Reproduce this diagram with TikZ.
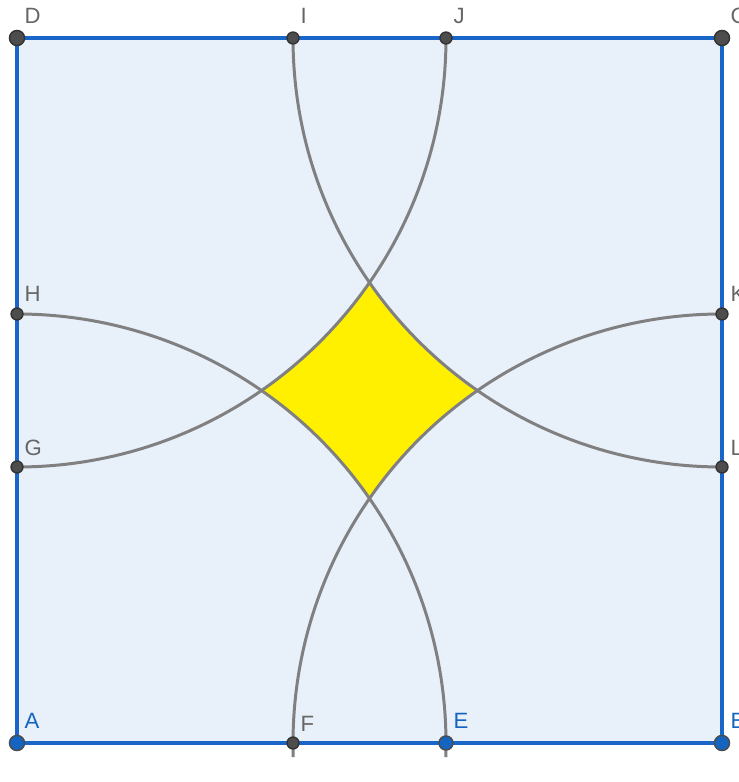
\documentclass[tikz,border=0pt]{standalone}
\usepackage{fontspec}
\setmainfont{Liberation Sans}
\usetikzlibrary{calc}
\definecolor{sqfill}{HTML}{E8F0FA}
\definecolor{sqline}{HTML}{1A66C8}
\definecolor{arcgray}{HTML}{808080}
\definecolor{ptgray}{HTML}{4D4D4D}
\definecolor{ptblue}{HTML}{1565C0}
\definecolor{lblgray}{HTML}{666666}
\definecolor{yel}{HTML}{FFF000}
\begin{document}
\begin{tikzpicture}[
  arcline/.style={draw=arcgray,line width=0.85pt},
  bigpt/.style={circle,fill=ptgray,draw=black!80,line width=0.4pt,inner sep=0pt,minimum size=4.3pt},
  smallpt/.style={circle,fill=ptgray,draw=black!80,line width=0.4pt,inner sep=0pt,minimum size=3.4pt},
  bigblue/.style={circle,fill=ptblue,draw=black!70,line width=0.4pt,inner sep=0pt,minimum size=4.3pt},
  midblue/.style={circle,fill=ptblue,draw=black!70,line width=0.4pt,inner sep=0pt,minimum size=4pt},
  lbl/.style={anchor=base west,inner sep=0pt,font=\fontsize{6.3}{7}\selectfont,text=lblgray},
  lblb/.style={lbl,text=ptblue}
]
\useasboundingbox (-0.17,-0.39) rectangle (7.21,7.43);
\coordinate (A) at (0,0);
\coordinate (B) at (7.05,0);
\coordinate (C) at (7.05,7.05);
\coordinate (D) at (0,7.05);
\coordinate (F) at (2.76,0);
\coordinate (E) at (4.29,0);
\coordinate (I) at (2.76,7.05);
\coordinate (J) at (4.29,7.05);
\coordinate (G) at (0,2.76);
\coordinate (H) at (0,4.29);
\coordinate (K) at (7.05,4.29);
\coordinate (L) at (7.05,2.76);
% square
\fill[sqfill] (A) rectangle (C);
% yellow region
\fill[yel] (2.4451,3.525) arc[start angle=55.25,end angle=34.75,radius=4.29]
  arc[start angle=145.25,end angle=124.75,radius=4.29]
  arc[start angle=235.25,end angle=214.75,radius=4.29]
  arc[start angle=-34.75,end angle=-55.25,radius=4.29] -- cycle;
% arcs
\draw[arcline] (H) arc[start angle=90,end angle=-1.9,radius=4.29];
\draw[arcline] (K) arc[start angle=90,end angle=181.9,radius=4.29];
\draw[arcline] (L) arc[start angle=270,end angle=180,radius=4.29];
\draw[arcline] (J) arc[start angle=0,end angle=-90,radius=4.29];
% border
\draw[sqline,line width=0.9pt] (A) -- (B) -- (C) -- (D) -- cycle;
% points
\node[bigpt] (pD) at (D) {};
\node[bigpt] (pC) at (C) {};
\node[bigblue] (pA) at (A) {};
\node[bigblue] (pB) at (B) {};
\node[midblue] (pE) at (E) {};
\node[smallpt] (pF) at (F) {};
\node[smallpt] (pI) at (I) {};
\node[smallpt] (pJ) at (J) {};
\node[smallpt] (pG) at (G) {};
\node[smallpt] (pH) at (H) {};
\node[smallpt] (pK) at (K) {};
\node[smallpt] (pL) at (L) {};
% labels
\node[lbl] (tD) at ($(D)+(0.07,0.14)$) {D};
\node[lbl] (tC) at ($(C)+(0.08,0.14)$) {C};
\node[lbl] (tI) at ($(I)+(0.07,0.14)$) {I};
\node[lbl] (tJ) at ($(J)+(0.07,0.14)$) {J};
\node[lbl] (tH) at ($(H)+(0.07,0.12)$) {H};
\node[lbl] (tG) at ($(G)+(0.07,0.12)$) {G};
\node[lbl] (tK) at ($(K)+(0.08,0.12)$) {K};
\node[lbl] (tL) at ($(L)+(0.08,0.12)$) {L};
\node[lblb] (tA) at ($(A)+(0.07,0.14)$) {A};
\node[lbl] (tF) at ($(F)+(0.07,0.12)$) {F};
\node[lblb] (tE) at ($(E)+(0.07,0.14)$) {E};
\node[lblb] (tB) at ($(B)+(0.08,0.14)$) {B};
\end{tikzpicture}
\end{document}
